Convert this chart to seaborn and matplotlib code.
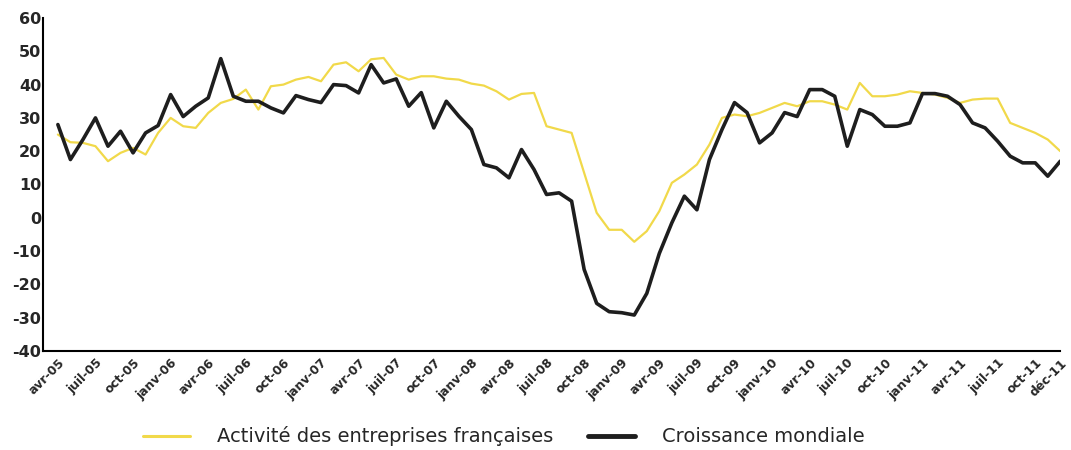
import pandas as pd
import numpy as np
import matplotlib
matplotlib.use("Agg")
import matplotlib.pyplot as plt
import seaborn as sns

# months avr-05 .. déc-11
mois = ["janv", "févr", "mars", "avr", "mai", "juin", "juil", "août", "sept", "oct", "nov", "déc"]
periodes = []
for annee in range(2005, 2012):
    for m in range(12):
        if annee == 2005 and m < 3:
            continue
        periodes.append(f"{mois[m]}-{str(annee)[2:]}")

activite_fr = [25, 22.7, 22.5, 21.5, 17, 19.5, 21, 19, 25.5, 30,
               27.5, 27, 31.5, 34.5, 35.7, 38.5, 32.5, 39.5, 40, 41.5,
               42.3, 41, 46, 46.7, 44, 47.6, 48, 43, 41.5, 42.5,
               42.5, 41.8, 41.5, 40.3, 39.7, 38, 35.5, 37.2, 37.5, 27.5,
               26.5, 25.5, 13.5, 1.5, -3.6, -3.6, -7.2, -4, 2, 10.5,
               13, 16, 22, 30, 31, 30.5, 31.5, 33, 34.5, 33.5,
               35, 35, 34, 32.5, 40.5, 36.5, 36.5, 37, 38, 37.5,
               37, 36, 34.5, 35.5, 35.8, 35.8, 28.5, 27, 25.5, 23.5,
               20]

croissance_mondiale = [28, 17.5, 23.5, 30, 21.5, 26, 19.5, 25.5, 27.7, 37,
                       30.4, 33.5, 36, 47.8, 36.5, 35, 35, 33, 31.5, 36.7,
                       35.5, 34.6, 40, 39.7, 37.5, 46, 40.5, 41.7, 33.5, 37.6,
                       27, 35, 30.5, 26.5, 16, 15, 12, 20.5, 14.5, 7,
                       7.5, 5, -15.5, -25.7, -28.2, -28.5, -29.2, -22.7, -10.7, -1.5,
                       6.5, 2.4, 17.5, 26.5, 34.6, 31.6, 22.5, 25.5, 31.6, 30.4,
                       38.5, 38.5, 36.5, 21.5, 32.5, 31, 27.5, 27.5, 28.5, 37.3,
                       37.3, 36.5, 34, 28.5, 27, 23, 18.5, 16.5, 16.5, 12.5,
                       17]

noms = ["Activité des entreprises françaises", "Croissance mondiale"]
couleurs = ["#f1d94a", "#1e1e1e"]

df = pd.DataFrame({
    "idx": list(range(len(periodes))) * 2,
    "valeur": activite_fr + croissance_mondiale,
    "serie": [noms[0]] * len(periodes) + [noms[1]] * len(periodes),
})

sns.set_style("white")
plt.rcParams["font.family"] = ["DejaVu Sans"]

fig = plt.figure(figsize=(10.71, 4.5), dpi=100)
ax = fig.add_axes([0.040, 0.22, 0.950, 0.74])

sns.lineplot(data=df, x="idx", y="valeur", hue="serie", palette=couleurs,
             ax=ax, legend=False, estimator=None)
ax.lines[0].set_linewidth(1.6)
ax.lines[1].set_linewidth(2.6)

ax.set_xlim(-1.2, 80)
ax.set_ylim(-40, 60)
ax.set_yticks(range(-40, 61, 10))
ax.set_yticklabels([str(v) for v in range(-40, 61, 10)], fontweight="bold", fontsize=11.5)

tick_pos = list(range(0, 79, 3)) + [80]
ax.set_xticks(tick_pos)
ax.set_xticklabels([periodes[i] for i in tick_pos], rotation=45, ha="right",
                   rotation_mode="anchor", fontweight="bold", fontsize=8.8)
ax.tick_params(axis="y", length=0, pad=1)
ax.tick_params(axis="x", length=0, pad=4)
ax.set_xlabel("")
ax.set_ylabel("")

sns.despine(ax=ax)
for s in ["left", "bottom"]:
    ax.spines[s].set_color("black")
    ax.spines[s].set_linewidth(1.5)

handles = [plt.Line2D([], [], color=couleurs[0], lw=2.2),
           plt.Line2D([], [], color=couleurs[1], lw=3.5)]
fig.legend(handles, noms, loc="center", bbox_to_anchor=(504 / 1071, 0.03), ncol=2,
           frameon=False, fontsize=14, handlelength=2.4, handletextpad=1.4,
           columnspacing=1.8)

fig.savefig("out.png", dpi=100)
